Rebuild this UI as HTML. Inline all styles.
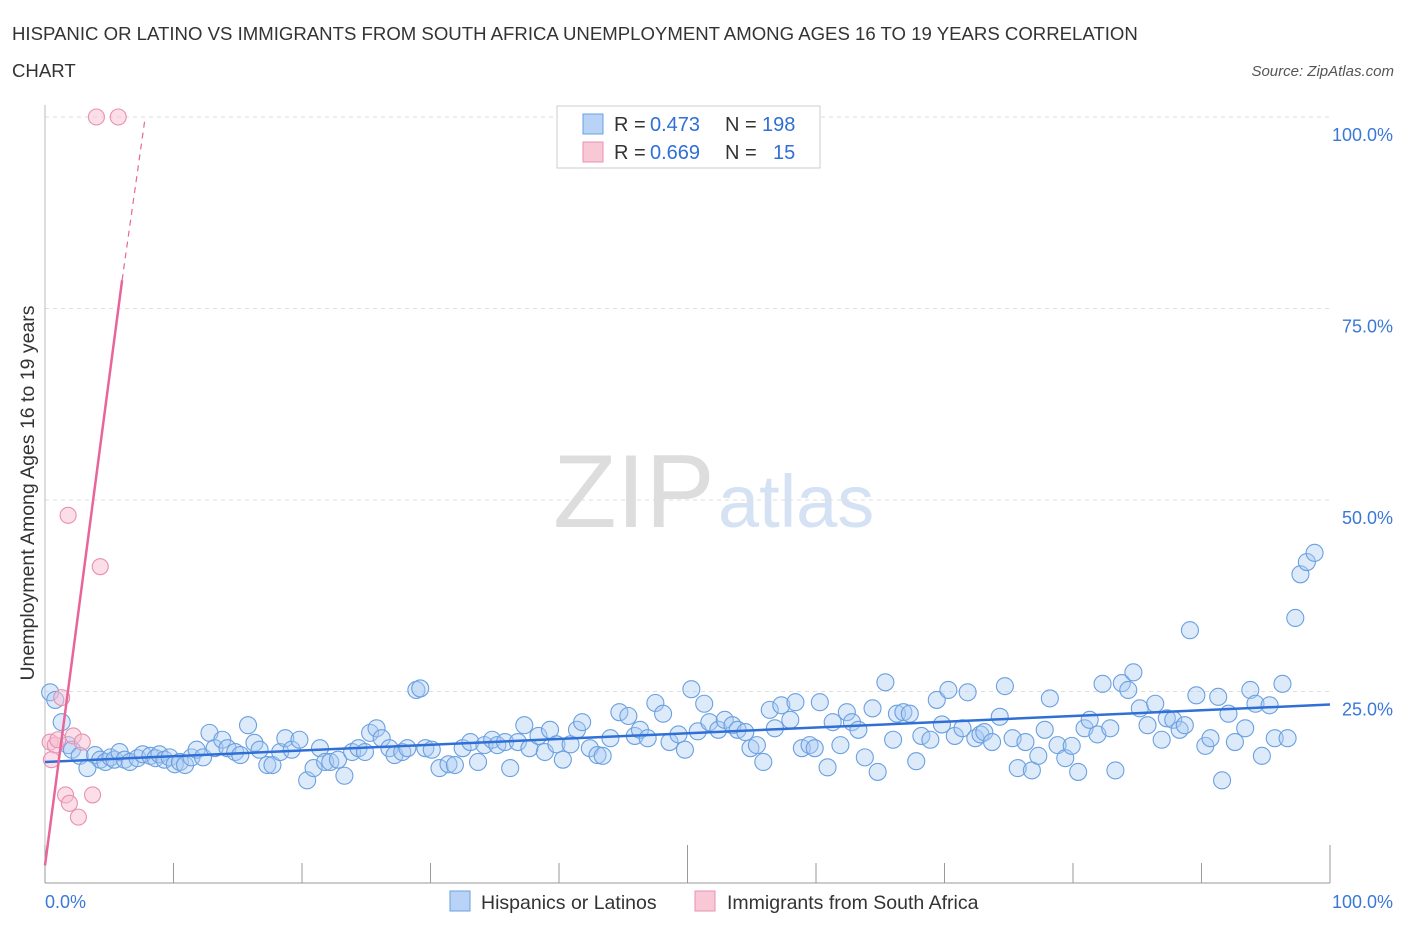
<!DOCTYPE html>
<html><head><meta charset="utf-8"><style>
body{margin:0;background:#fff;font-family:"Liberation Sans",sans-serif}
svg text{font-family:"Liberation Sans",sans-serif}
</style></head><body>
<svg id="chart" width="1406" height="930" xmlns="http://www.w3.org/2000/svg">
<text x="12" y="40" font-size="18.6" fill="#333">HISPANIC OR LATINO VS IMMIGRANTS FROM SOUTH AFRICA UNEMPLOYMENT AMONG AGES 16 TO 19 YEARS CORRELATION</text>
<text x="12" y="77" font-size="18.6" fill="#333">CHART</text>
<text x="1394" y="76" font-size="15" fill="#555" font-style="italic" text-anchor="end">Source: ZipAtlas.com</text>
<text x="553" y="527" font-size="104" fill="#ddd" font-family="Liberation Serif">ZIP</text>
<text x="718" y="527" font-size="74" fill="#d4e2f4">atlas</text>
<g id="grid"></g>
<g id="axes"></g>
<g id="points"></g>
<g id="trends"></g>
<text transform="translate(34,493) rotate(-90)" font-size="19.5" fill="#333" text-anchor="middle">Unemployment Among Ages 16 to 19 years</text>
<g>
<rect x="557" y="106" width="263" height="62" fill="#fff" stroke="#ccc"/>
<rect x="583" y="114" width="20" height="20" fill="#b8d3f5" stroke="#6aa0e0"/>
<rect x="583" y="142" width="20" height="20" fill="#f9c8d6" stroke="#e890b0"/>
<text x="614" y="131" font-size="20" fill="#333">R =</text>
<text x="650" y="131" font-size="20" fill="#2f6fd6">0.473</text>
<text x="725" y="131" font-size="20" fill="#333">N =</text>
<text x="762" y="131" font-size="20" fill="#2f6fd6">198</text>
<text x="614" y="159" font-size="20" fill="#333">R =</text>
<text x="650" y="159" font-size="20" fill="#2f6fd6">0.669</text>
<text x="725" y="159" font-size="20" fill="#333">N =</text>
<text x="773" y="159" font-size="20" fill="#2f6fd6">15</text>
</g>
<g>
<rect x="450" y="891" width="20" height="20" fill="#b8d3f5" stroke="#6aa0e0"/>
<text x="481" y="909" font-size="19.5" fill="#333">Hispanics or Latinos</text>
<rect x="695" y="891" width="20" height="20" fill="#f9c8d6" stroke="#e890b0"/>
<text x="727" y="909" font-size="19.5" fill="#333">Immigrants from South Africa</text>
</g>
</svg>
<script>
const blueX=[0.4,0.8,1.3,1.8,2.1,2.7,3.3,3.9,4.3,4.7,5.1,5.4,5.8,6.2,6.6,7.2,7.6,8.2,8.6,8.9,9.3,9.7,10.1,10.5,10.9,11.4,11.8,12.3,12.8,13.2,13.8,14.2,14.8,15.2,15.8,16.3,16.7,17.3,17.7,18.3,18.7,19.2,19.8,20.4,20.9,21.4,21.8,22.2,22.8,23.3,23.9,24.4,24.9,25.3,25.8,26.2,26.8,27.2,27.8,28.2,28.9,29.2,29.6,30.1,30.7,31.4,31.9,32.5,33.1,33.7,34.2,34.8,35.2,35.8,36.2,36.8,37.3,37.7,38.4,38.9,39.3,39.8,40.3,40.9,41.4,41.8,42.4,43.0,43.4,44.0,44.7,45.4,45.9,46.3,46.9,47.5,48.1,48.6,49.3,49.8,50.3,50.8,51.3,51.7,52.4,52.9,53.5,53.9,54.5,54.9,55.4,55.9,56.4,56.8,57.3,58.0,58.4,58.9,59.5,59.9,60.3,60.9,61.3,61.9,62.4,62.8,63.3,63.8,64.4,64.8,65.4,66.0,66.3,66.8,67.3,67.8,68.2,68.9,69.4,69.8,70.3,70.8,71.4,71.8,72.4,72.8,73.1,73.7,74.3,74.7,75.3,75.7,76.3,76.8,77.3,77.8,78.2,78.8,79.4,79.9,80.4,80.9,81.3,81.9,82.3,82.9,83.3,83.8,84.3,84.7,85.2,85.8,86.4,86.9,87.3,87.8,88.3,88.7,89.1,89.6,90.3,90.7,91.3,91.6,92.1,92.6,93.4,93.8,94.2,94.7,95.3,95.7,96.3,96.7,97.3,97.7,98.2,98.8];
const blueY=[24.9,23.9,21.0,18.0,17.4,16.6,15.0,16.7,16.1,15.8,16.4,16.1,17.1,16.1,15.8,16.3,16.8,16.6,16.3,16.8,16.1,16.4,15.5,15.8,15.4,16.4,17.4,16.4,19.6,17.6,18.7,17.6,17.1,16.7,20.6,18.3,17.4,15.4,15.4,17.1,18.9,17.4,18.7,13.4,15.0,17.6,15.8,15.8,16.1,14.0,17.1,17.6,17.1,19.6,20.2,18.9,17.6,16.7,17.1,17.6,25.2,25.4,17.6,17.4,15.0,15.5,15.4,17.6,18.4,15.8,18.0,18.7,18.0,18.4,15.0,18.4,20.6,17.6,19.2,17.1,20.0,18.1,16.1,18.1,20.0,21.0,17.6,16.7,16.6,18.9,22.3,21.8,19.2,20.0,18.9,23.5,22.1,18.4,19.4,17.4,25.3,19.8,23.4,21.0,20.0,21.3,20.6,20.0,19.7,17.6,18.0,15.8,22.6,20.2,23.2,21.3,23.6,17.6,18.0,17.6,23.6,15.1,21.0,18.0,22.3,21.0,20.0,16.4,22.8,14.5,26.2,18.7,22.1,22.3,22.1,15.9,19.2,18.7,23.9,20.7,25.2,19.2,20.2,24.9,18.9,19.4,19.7,18.4,21.7,25.7,18.9,15.0,18.4,14.7,16.6,20.0,24.1,18.0,16.3,17.9,14.5,20.2,21.3,19.4,26.0,20.2,14.7,26.1,25.2,27.5,22.8,20.6,23.4,18.7,21.5,21.3,20.0,20.6,33.0,24.5,17.9,18.9,24.3,13.4,22.1,18.4,20.2,25.2,23.4,16.6,23.2,18.9,26.0,18.9,34.6,40.3,41.9,43.1];
const pinkX=[0.4,0.8,0.5,1.0,1.3,1.6,1.8,1.9,2.2,2.6,2.9,3.7,4.3,4.0,5.7];
const pinkY=[18.4,18.0,16.1,18.7,24.2,11.5,48.0,10.4,19.2,8.6,18.4,11.5,41.3,100,100];
const blueTrend=[[0,15.8],[100,23.3]];
const pinkTrend=[[0,2.3],[6.0,78.7]];
const pinkDash=[[6.0,78.7],[7.8,100]];
const yTicks=[25,50,75,100];
const xTickVals=[0,10,20,30,40,50,60,70,80,90,100];
const NS='http://www.w3.org/2000/svg';
const sx=v=>45+v*12.85, sy=v=>883-v*7.66;
function mk(t,a,p){const e=document.createElementNS(NS,t);for(const k in a)e.setAttribute(k,a[k]);document.getElementById(p).appendChild(e);return e;}
yTicks.forEach(v=>{
 const l=mk('line',{x1:45,x2:1330,y1:sy(v),y2:sy(v),stroke:'#ddd','stroke-dasharray':'4,4'},'grid');
 
 
 const t=mk('text',{x:1393,y:sy(v)+24,'font-size':18,fill:'#3a78d8','text-anchor':'end'},'axes');
 t.textContent=v.toFixed(1)+'%';
 
 
});
const xa=mk('line',{x1:45,x2:1330,y1:883,y2:883,stroke:'#999'},'axes');


const ya=mk('line',{x1:45,x2:45,y1:105,y2:883,stroke:'#bbb'},'axes');


xTickVals.forEach(v=>{
 const l=mk('line',{x1:sx(v),x2:sx(v),y1:883,y2:v%50===0?845:863,stroke:'#999'},'axes');
 
 
});
[[0,'0.0%','start',45],[100,'100.0%','end',1393]].forEach(d=>{
 const t=mk('text',{x:d[3],y:908,'font-size':18,fill:'#3a78d8','text-anchor':d[2]},'axes');
 t.textContent=d[1];
 
 
});
blueX.forEach((x,i)=>{
 const c=mk('circle',{cx:sx(x),cy:sy(blueY[i]),r:8.5,fill:'rgba(170,202,242,0.4)',stroke:'#6aa0e0','stroke-width':1.1},'points');
 
 
});
pinkX.forEach((x,i)=>{
 const c=mk('circle',{cx:sx(x),cy:sy(pinkY[i]),r:8,fill:'rgba(248,190,210,0.5)',stroke:'#e890b0','stroke-width':1.1},'points');
 
 
});
const bt=mk('line',{x1:sx(blueTrend[0][0]),y1:sy(blueTrend[0][1]),x2:sx(blueTrend[1][0]),y2:sy(blueTrend[1][1]),stroke:'#2f6fd6','stroke-width':2.5},'trends');


const pt=mk('line',{x1:sx(pinkTrend[0][0]),y1:sy(pinkTrend[0][1]),x2:sx(pinkTrend[1][0]),y2:sy(pinkTrend[1][1]),stroke:'#e8659a','stroke-width':2.5},'trends');


const pd=mk('line',{x1:sx(pinkDash[0][0]),y1:sy(pinkDash[0][1]),x2:sx(pinkDash[1][0]),y2:sy(pinkDash[1][1]),stroke:'#e8659a','stroke-width':1.2,'stroke-dasharray':'6,5'},'trends');


</script>
</body></html>
